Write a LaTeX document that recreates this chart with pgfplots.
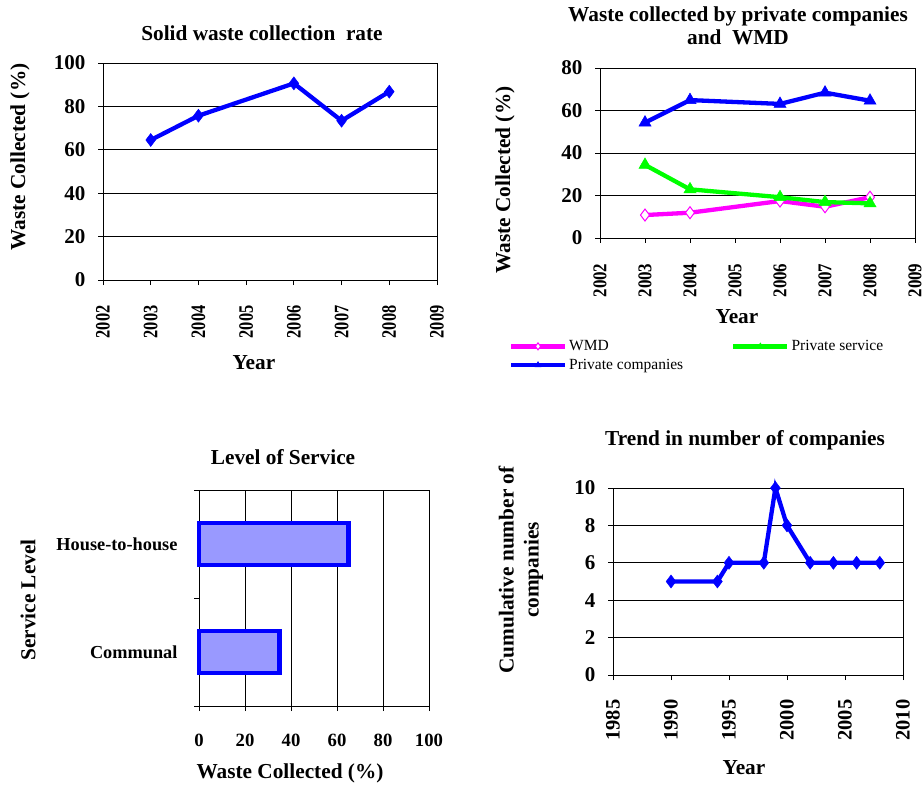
\documentclass[border=0pt]{standalone}
\usepackage{pgfplots}
\pgfplotsset{compat=1.18}
\usepackage{fontspec}
\setmainfont{Liberation Serif}
\newfontfamily\narrowA[FakeStretch=0.8]{Liberation Serif}
\newfontfamily\narrowB[FakeStretch=0.87]{Liberation Serif}
\definecolor{pblue}{RGB}{0,0,255}
\definecolor{pmag}{RGB}{255,0,255}
\definecolor{pgreen}{RGB}{0,255,0}
\definecolor{pfill}{RGB}{153,153,255}
\newcommand{\bfb}{\bfseries\fontsize{21.3}{25}\selectfont}
\newcommand{\bft}{\bfseries\fontsize{21}{25}\selectfont}
\pgfplotsset{
  myaxis/.style={
    scale only axis,
    axis line style={black, line width=0.9pt},
    tick style={black, line width=0.9pt},
    major tick length=5pt,
    tick align=outside,
    xtick pos=bottom, ytick pos=left,
    /pgf/number format/assume math mode=true,
    /pgf/number format/1000 sep={},
    ticklabel style={font=\bft},
    grid style={black, line width=0.7pt},
    clip=false,
  },
}
\begin{document}
\begin{tikzpicture}
\path[use as bounding box] (0pt,0pt) rectangle (923pt,788pt);

% ---------- Panel 1 ----------
\begin{axis}[myaxis,
  at={(103pt,508pt)}, anchor=south west,
  width=334pt, height=217pt,
  xmin=2002, xmax=2009, xtick={2002,...,2009},
  ymin=0, ymax=100, ytick={0,20,...,100},
  ymajorgrids,
  yticklabel style={xshift=-9pt},
  xticklabel style={font=\narrowA\bfseries\fontsize{20.5}{24}\selectfont, yshift=-17pt, rotate=90, anchor=east},
]
\addplot[pblue, line width=4.3pt, mark=diamond*, mark size=6.5pt, mark options={line width=0.5pt}]
  coordinates {(2003,64.5) (2004,75.7) (2006,90.6) (2007,73.4) (2008,86.8)};
\end{axis}
\node[font=\bfb] at (262pt,755pt) {Solid waste collection\ \ rate};
\node[font=\bfb] at (254pt,425pt) {Year};
\node[font=\bfb, rotate=90] at (20pt,631pt) {Waste Collected (\%)};

% ---------- Panel 2 ----------
\begin{axis}[myaxis,
  at={(600pt,550pt)}, anchor=south west,
  width=315pt, height=170pt,
  xmin=2002, xmax=2009, xtick={2002,...,2009},
  ymin=0, ymax=80, ytick={0,20,...,80},
  ymajorgrids,
  yticklabel style={xshift=-9pt},
  xticklabel style={font=\narrowB\bfseries\fontsize{19.5}{24}\selectfont, yshift=-17pt, rotate=90, anchor=east},
  legend columns=2, legend cell align=left,
  legend style={draw=none, fill=none, font=\fontsize{15.5}{18}\selectfont,
    at={(axis description cs:-0.29,-0.59)}, anchor=north west,
    /tikz/every even column/.append style={column sep=46pt},
    row sep=3pt, inner sep=0pt},
  legend image code/.code={\draw[mark repeat=2,mark phase=2,#1, mark size=3.5pt] plot coordinates {(0pt,0pt) (27pt,0pt) (54pt,0pt)};},
]
\addplot[pmag, line width=4.3pt, mark=diamond*, mark size=6pt, mark options={fill=white, line width=1pt}]
  coordinates {(2003,10.8) (2004,11.9) (2006,17.4) (2007,14.7) (2008,19.2)};
\addlegendentry{WMD}
\addplot[pgreen, line width=4.3pt, mark=triangle*, mark size=7pt, mark options={line width=0.5pt}]
  coordinates {(2003,34.4) (2004,22.9) (2006,19.2) (2007,16.9) (2008,16.3)};
\addlegendentry{Private service}
\addplot[pblue, line width=4.3pt, mark=triangle*, mark size=7pt, mark options={line width=0.5pt}]
  coordinates {(2003,54.3) (2004,64.9) (2006,63.1) (2007,68.4) (2008,64.6)};
\addlegendentry{Private companies}
\end{axis}
\node[font=\bfb, align=center] at (738pt,762pt) {Waste collected by private companies\\[-2pt]and\ \ WMD};
\node[font=\bfb] at (737pt,471pt) {Year};
\node[font=\bfb, rotate=90] at (505pt,608pt) {Waste Collected (\%)};

% ---------- Panel 3 ----------
\begin{axis}[myaxis,
  at={(199pt,82pt)}, anchor=south west,
  width=230pt, height=216pt,
  xbar, bar width=42pt,
  xmin=0, xmax=100, xtick={0,20,...,100},
  ymin=-0.5, ymax=1.5,
  ytick={-0.5,0.5,1.5}, yticklabels={},
  extra y ticks={0,1}, extra y tick labels={Communal,House-to-house},
  extra y tick style={major tick length=0pt, yticklabel style={font=\bfseries\fontsize{18.3}{22}\selectfont, xshift=-18pt}},
  xmajorgrids,
  xticklabel style={font=\bfseries\fontsize{18.7}{22}\selectfont, yshift=-20pt},
]
\addplot[draw=pblue, fill=pfill, line width=4.3pt]
  coordinates {(35,0) (65,1)};
\end{axis}
\node[font=\bfb] at (283pt,331pt) {Level of Service};
\node[font=\bfb] at (290pt,15pt) {Waste Collected (\%)};
\node[font=\bfb, rotate=90] at (28pt,188pt) {Service Level};

% ---------- Panel 4 ----------
\begin{axis}[myaxis,
  at={(613pt,113pt)}, anchor=south west,
  width=290pt, height=187pt,
  xmin=1985, xmax=2010, xtick={1985,1990,...,2010},
  ymin=0, ymax=10, ytick={0,2,...,10},
  ymajorgrids,
  yticklabel style={xshift=-9pt},
  xticklabel style={font=\bfseries\fontsize{20.5}{24}\selectfont, yshift=-16pt, rotate=90, anchor=east},
]
\addplot[pblue, line width=4.3pt, mark=diamond*, mark size=6.5pt, mark options={line width=0.5pt}]
  coordinates {(1990,5) (1994,5) (1995,6) (1998,6) (1999,10) (2000,8) (2002,6) (2004,6) (2006,6) (2008,6)};
\end{axis}
\node[font=\bfb] at (745pt,348pt) {Trend in number of companies};
\node[font=\bfb] at (744pt,20pt) {Year};
\node[font=\bfb, rotate=90, align=center] at (521pt,218pt) {Cumulative number of\\[0pt]companies};
\end{tikzpicture}
\end{document}
